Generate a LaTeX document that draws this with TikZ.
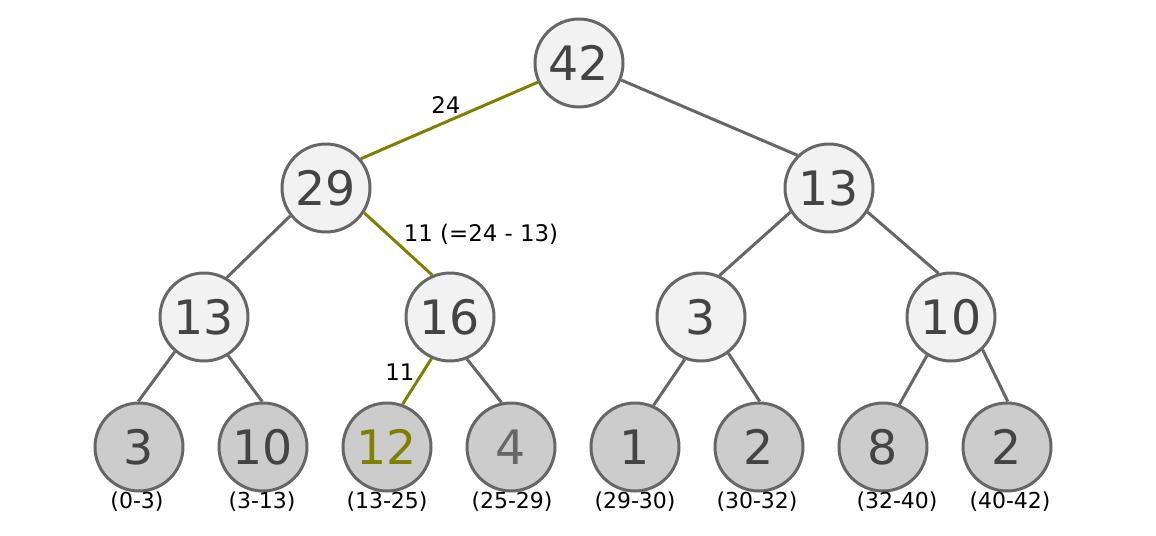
\documentclass[tikz,border=0pt]{standalone}
\usepackage{fontspec}
\setmainfont{DejaVu Sans}
\definecolor{edgegray}{HTML}{666666}
\definecolor{textgray}{HTML}{444444}
\definecolor{innerfill}{HTML}{F2F2F2}
\definecolor{leaffill}{HTML}{CCCCCC}
\definecolor{pathcol}{HTML}{808000}
\begin{document}
\begin{tikzpicture}[
    treenode/.style={circle, draw=edgegray, line width=1.7pt, minimum size=1.76cm, inner sep=0pt, text=textgray, font=\fontsize{27}{27}\selectfont},
    inner/.style={treenode, fill=innerfill},
    leaf/.style={treenode, fill=leaffill},
    edge/.style={draw=edgegray, line width=1.7pt},
    hot/.style={draw=pathcol, line width=1.7pt},
    small/.style={font=\fontsize{13}{13}\selectfont, inner sep=0pt},
    spanlabel/.style={font=\fontsize{12.5}{12.5}\selectfont, inner sep=0pt}
]
    \useasboundingbox (0,0) rectangle (23.12,10.7);
    % Root and inner nodes
    \node[inner] (root) at (11.58,9.44) {42};
    \node[inner] (l) at (6.52,6.94) {29};
    \node[inner] (r) at (16.58,6.94) {13};
    \node[inner] (ll) at (4.08,4.36) {13};
    \node[inner] (lr) at (9.0,4.36) {16};
    \node[inner] (rl) at (14.02,4.36) {3};
    \node[inner] (rr) at (19.02,4.36) {10};
    % Leaves
    \node[leaf] (a) at (2.78,1.76) {3};
    \node[leaf] (b) at (5.26,1.76) {10};
    \node[leaf, text=pathcol] (c) at (7.74,1.76) {12};
    \node[leaf, text=edgegray] (d) at (10.22,1.76) {4};
    \node[leaf] (e) at (12.70,1.76) {1};
    \node[leaf] (f) at (15.18,1.76) {2};
    \node[leaf] (g) at (17.66,1.76) {8};
    \node[leaf] (h) at (20.14,1.76) {2};
    % Ranges
    \node[spanlabel] (ra) at (2.74,0.66) {(0-3)};
    \node[spanlabel] (rb) at (5.24,0.66) {(3-13)};
    \node[spanlabel] (rc) at (7.74,0.66) {(13-25)};
    \node[spanlabel] (rd) at (10.24,0.66) {(25-29)};
    \node[spanlabel] (re) at (12.70,0.66) {(29-30)};
    \node[spanlabel] (rf) at (15.14,0.66) {(30-32)};
    \node[spanlabel] (rg) at (17.94,0.66) {(32-40)};
    \node[spanlabel] (rh) at (20.20,0.66) {(40-42)};
    % Edges
    \draw[hot] (root.205) -- (l.40);
    \draw[edge] (root.338) -- (r.134);
    \draw[edge] (l.218) -- (ll.60);
    \draw[hot] (l.327) -- (lr.113);
    \draw[edge] (r.212) -- (rl.66);
    \draw[edge] (r.328) -- (rr.106);
    \draw[edge] (ll.230) -- (a.91);
    \draw[edge] (ll.302) -- (b.91);
    \draw[hot] (lr.246) -- (c.70);
    \draw[edge] (lr.292) -- (d.102);
    \draw[edge] (rl.249) -- (e.66);
    \draw[edge] (rl.307) -- (f.89);
    \draw[edge] (rr.238) -- (g.69);
    \draw[edge] (rr.314) -- (h.89);
    % Search weights
    \node[small] (w1) at (8.92,8.6) {24};
    \node[small] (w2) at (9.62,6.02) {11 (=24 - 13)};
    \node[small] (w3) at (8.0,3.26) {11};
\end{tikzpicture}
\end{document}
